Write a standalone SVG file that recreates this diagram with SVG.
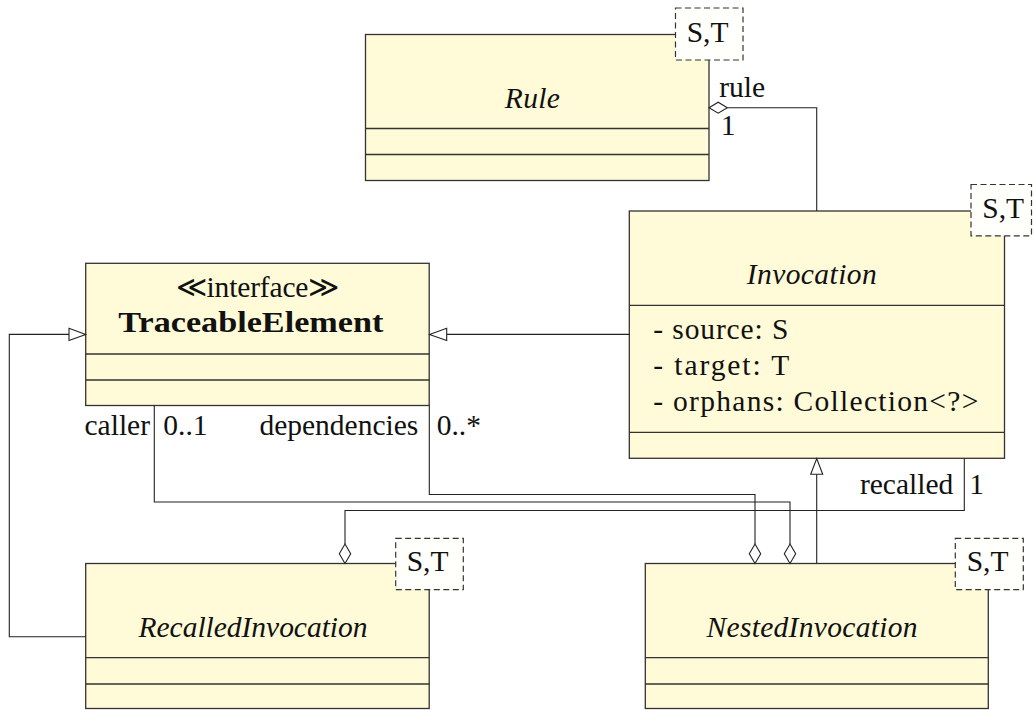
<svg xmlns="http://www.w3.org/2000/svg" width="1035" height="710" viewBox="0 0 1035 710">
  <style>
    .cls { fill: #fffad7; stroke: #333; stroke-width: 1.3; }
    .sep { stroke: #333; stroke-width: 1.3; fill: none; }
    .tpl { fill: #fffffb; stroke: #333; stroke-width: 1.2; stroke-dasharray: 6 3.5; }
    .t { font-family: "Liberation Serif", "DejaVu Serif", serif; font-size: 29.5px; fill: #111; }
    .it { font-style: italic; }
    .bf { font-weight: bold; }
    .wire { fill: none; stroke: #222; stroke-width: 1.1; }
    .head { fill: #fff; stroke: #222; stroke-width: 1.1; }
  </style>

  <!-- class: Rule -->
  <g id="rule">
    <rect class="cls" x="365.5" y="34.5" width="343.5" height="146"/>
    <line class="sep" x1="365.5" y1="128.5" x2="709" y2="128.5"/>
    <line class="sep" x1="365.5" y1="154.5" x2="709" y2="154.5"/>
    <text class="t it" x="532.3" y="108.3" text-anchor="middle" textLength="55">Rule</text>
    <rect class="tpl" x="675.5" y="8" width="67.5" height="52"/>
    <text class="t" x="686.7" y="41.7">S,T</text>
  </g>

  <!-- class: Invocation -->
  <g id="invocation">
    <rect class="cls" x="629.3" y="211" width="375.2" height="247.3"/>
    <line class="sep" x1="629.3" y1="305.3" x2="1004.5" y2="305.3"/>
    <line class="sep" x1="629.3" y1="432.3" x2="1004.5" y2="432.3"/>
    <text class="t it" x="811.7" y="284" text-anchor="middle" textLength="130">Invocation</text>
    <text class="t" x="653.3" y="339.3" textLength="135">- source: S</text>
    <text class="t" x="653.3" y="375" textLength="136">- target: T</text>
    <text class="t" x="653.3" y="411" textLength="325">- orphans: Collection&lt;?&gt;</text>
    <rect class="tpl" x="971" y="184.5" width="60.5" height="51.3"/>
    <text class="t" x="982.3" y="217.7">S,T</text>
  </g>

  <!-- interface: TraceableElement -->
  <g id="traceable-element">
    <rect class="cls" x="85.7" y="263.3" width="343.5" height="142.2"/>
    <line class="sep" x1="85.7" y1="354" x2="429.2" y2="354"/>
    <line class="sep" x1="85.7" y1="380" x2="429.2" y2="380"/>
    <text class="t" x="257.5" y="297.3" text-anchor="middle" textLength="163.6">≪interface≫</text>
    <text class="t bf" x="250.8" y="331.7" text-anchor="middle" textLength="265" lengthAdjust="spacingAndGlyphs">TraceableElement</text>
  </g>

  <!-- class: RecalledInvocation -->
  <g id="recalled-invocation">
    <rect class="cls" x="85.7" y="563.5" width="343.5" height="145"/>
    <line class="sep" x1="85.7" y1="657.7" x2="429.2" y2="657.7"/>
    <line class="sep" x1="85.7" y1="684" x2="429.2" y2="684"/>
    <text class="t it" x="253" y="636.7" text-anchor="middle" textLength="229">RecalledInvocation</text>
    <rect class="tpl" x="395.7" y="538.3" width="67.6" height="51.4"/>
    <text class="t" x="406.7" y="570.7">S,T</text>
  </g>

  <!-- class: NestedInvocation -->
  <g id="nested-invocation">
    <rect class="cls" x="645.3" y="563.5" width="343" height="145"/>
    <line class="sep" x1="645.3" y1="657.7" x2="988.3" y2="657.7"/>
    <line class="sep" x1="645.3" y1="684" x2="988.3" y2="684"/>
    <text class="t it" x="812" y="636.7" text-anchor="middle" textLength="211">NestedInvocation</text>
    <rect class="tpl" x="955.3" y="538.3" width="68" height="51.4"/>
    <text class="t" x="966.7" y="570.7">S,T</text>
  </g>

  <!-- connectors -->
  <g id="connectors">
    <!-- Invocation.rule aggregation -->
    <path class="wire" d="M816.7,211 V107.7 H727.3"/>
    <polygon class="head" points="709,107.7 718.2,102.2 727.3,107.7 718.2,113.2"/>
    <text class="t" x="719.3" y="96.7">rule</text>
    <text class="t" x="720.7" y="135">1</text>

    <!-- Invocation realizes TraceableElement -->
    <path class="wire" d="M629.3,334.4 H446.7"/>
    <polygon class="head" points="429.5,334.4 446.7,328.3 446.7,340.5"/>

    <!-- RecalledInvocation realizes TraceableElement -->
    <path class="wire" d="M85.7,636.7 H9.3 V334.4 H69"/>
    <polygon class="head" points="85.7,334.4 69,328.3 69,340.5"/>

    <!-- NestedInvocation extends Invocation -->
    <path class="wire" d="M816.7,563.5 V474.3"/>
    <polygon class="head" points="816.7,458.6 810.7,474.3 822.7,474.3"/>

    <!-- dependencies -->
    <path class="wire" d="M429.3,405.5 V494.5 H755 V544"/>
    <polygon class="head" points="755,544 760.7,553.7 755,563.5 749.3,553.7"/>
    <text class="t" x="418.3" y="435" text-anchor="end">dependencies</text>
    <text class="t" x="436.7" y="435">0..*</text>

    <!-- caller -->
    <path class="wire" d="M154.3,405.5 V502 H790 V544"/>
    <polygon class="head" points="790,544 795.7,553.7 790,563.5 784.3,553.7"/>
    <text class="t" x="150" y="435" text-anchor="end">caller</text>
    <text class="t" x="163.3" y="435">0..1</text>

    <!-- recalled -->
    <path class="wire" d="M964.3,458.3 V510.5 H345 V544"/>
    <polygon class="head" points="345,544 350.7,553.7 345,563.5 339.3,553.7"/>
    <text class="t" x="953.3" y="494" text-anchor="end">recalled</text>
    <text class="t" x="969.3" y="494">1</text>
  </g>
</svg>
